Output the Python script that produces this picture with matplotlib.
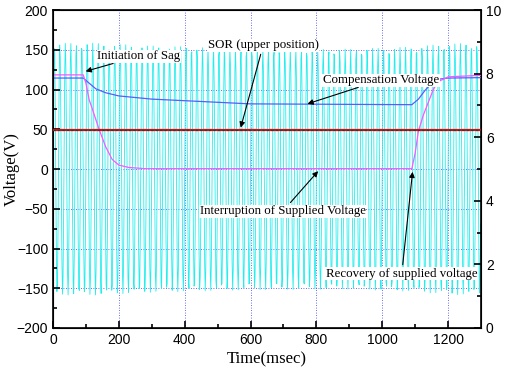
import numpy as np
import matplotlib.pyplot as plt

# -------------------------------
# Data
# -------------------------------
# load voltage waveform: 60 Hz, amplitude envelope (V)
freq_hz = 60.0
env_t = [0, 100, 300, 600, 900, 1100, 1200, 1300]
env_amp = [158, 159, 155, 152, 151, 154, 158, 158]

# supplied voltage (magenta)
sup_t = [0, 92, 100, 110, 120, 140, 160, 180, 200, 230, 280, 1090,
         1100, 1110, 1125, 1140, 1155, 1170, 1200, 1300]
sup_v = [118.5, 118.5, 108, 87, 75, 50, 28, 12, 5, 2, 0.5, 0.5,
         20, 48, 68, 84, 100, 110, 116, 118]

# compensation voltage (blue)
comp_t = [0, 92, 110, 130, 160, 200, 250, 300, 400, 500, 600, 1090,
          1110, 1130, 1150, 1170, 1200, 1300]
comp_v = [114.5, 114.5, 108, 101, 96, 92, 90, 88, 86, 84, 82, 81,
          88, 99, 108, 113, 114.5, 115]

# SOR position (right axis)
sor_t = [0, 1300]
sor_pos = [6.22, 6.22]

xticks = [0, 200, 400, 600, 800, 1000, 1200]
yticks = [-200, -150, -100, -50, 0, 50, 100, 150, 200]
rticks = [0, 2, 4, 6, 8, 10]

# -------------------------------
# Waveform (sampled like the scope record)
# -------------------------------
t = np.arange(0, 1300.5, 1.7)
amp = np.interp(t, env_t, env_amp)
wave = amp * np.sin(2 * np.pi * freq_hz * t / 1000.0)

# -------------------------------
# Plot
# -------------------------------
fig = plt.figure(figsize=(5.06, 3.74), dpi=100)
ax = fig.add_axes([0.1047, 0.123, 0.8459, 0.850])

grid_kw = dict(color="#3a3aff", lw=0.6, ls=(0, (1, 2)), zorder=0.5)
for x in xticks[1:]:
    ax.axvline(x, **grid_kw)
for y in yticks[1:-1]:
    ax.axhline(y, **grid_kw)

ax.plot(t, wave, color="#22eeee", lw=0.6, zorder=1)
ax.plot(comp_t, comp_v, color="#5a5aff", lw=0.9, zorder=3)
ax.plot(sup_t, sup_v, color="#ff55ff", lw=0.9, zorder=3)

ax.set_xlim(0, 1300)
ax.set_ylim(-200, 200)
ax.set_xticks(xticks)
ax.set_yticks(yticks)
ax.set_xticks(np.arange(100, 1300, 200), minor=True)
ax.set_yticks(np.arange(-175, 200, 50), minor=True)
ax.tick_params(which="both", direction="in", width=1.2, labelsize=10)
ax.tick_params(which="major", length=5)
ax.tick_params(which="minor", length=3)
for s in ax.spines.values():
    s.set_linewidth(1.2)

serif = "Liberation Serif"
sans = "Liberation Sans"
for lab in ax.get_xticklabels() + ax.get_yticklabels():
    lab.set_family(sans)
ax.set_xlabel("Time(msec)", family=serif, fontsize=12, labelpad=3)
ax.set_ylabel("Voltage(V)", family=serif, fontsize=12, labelpad=-2)

ax2 = ax.twinx()
ax2.plot(sor_t, sor_pos, color="#cc1111", lw=1.6, zorder=4)
ax2.plot(sor_t, sor_pos, color="#662222", lw=0.8, ls=(0, (2, 2)), zorder=5)
ax2.set_ylim(0, 10)
ax2.set_yticks(rticks)
ax2.set_yticks(np.arange(1, 10, 2), minor=True)
ax2.tick_params(which="both", direction="in", width=1.2, labelsize=10)
ax2.tick_params(which="major", length=5)
ax2.tick_params(which="minor", length=3)
for lab in ax2.get_yticklabels():
    lab.set_family(sans)
ax2.set_zorder(ax.get_zorder() + 1)
ax2.patch.set_visible(False)

box = dict(fc="white", ec="none", pad=0.4)
arr = dict(arrowstyle="-|>", color="black", lw=0.8, mutation_scale=8)
ann_kw = dict(family=serif, fontsize=9.3, bbox=box, arrowprops=arr,
              ha="left", va="center", zorder=10)

ax2.annotate("Initiation of Sag", xy=(91, (122 + 200) / 40),
             xytext=(134, (142 + 200) / 40), **ann_kw)
ax2.annotate("SOR (upper position)", xy=(568, 6.22),
             xytext=(470, (156 + 200) / 40), **ann_kw)
ax2.annotate("Compensation Voltage", xy=(765, (81 + 200) / 40),
             xytext=(820, (112 + 200) / 40), **ann_kw)
ax2.annotate("Interruption of Supplied Voltage", xy=(811, 200 / 40),
             xytext=(446, (-53 + 200) / 40), **ann_kw)
ax2.annotate("Recovery of supplied voltage", xy=(1093, 200 / 40),
             xytext=(829, (-132 + 200) / 40), **ann_kw)

fig.savefig("out.png", dpi=100)
